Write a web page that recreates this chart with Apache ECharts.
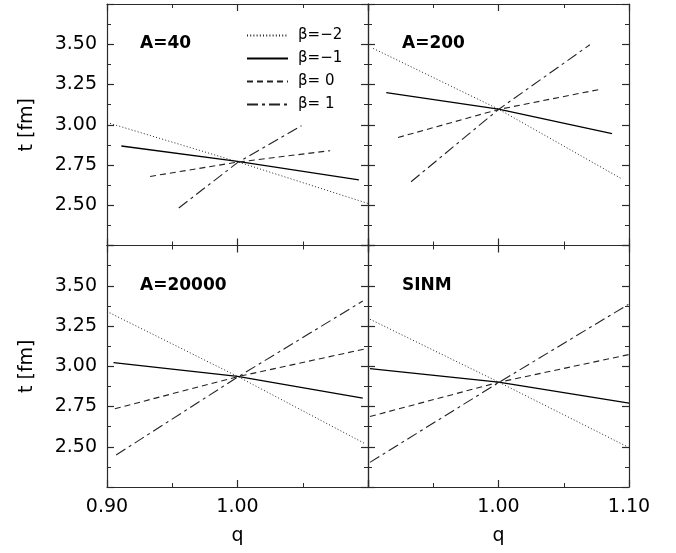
<!DOCTYPE html>
<html>
<head>
<meta charset="utf-8">
<script src="https://cdn.jsdelivr.net/npm/echarts@6/dist/echarts.min.js"></script>
<style>
  html, body { margin: 0; padding: 0; background: #fff; }
  #chart { width: 676px; height: 553px; }
</style>
</head>
<body>
<div id="chart"></div>
<script>
// Beta labels and panel captions
const BETA_NAMES = ['β=−2', 'β=−1', 'β= 0', 'β= 1'];
const PANEL_LABELS = ['A=40', 'A=200', 'A=20000', 'SINM'];

// Curves t(q) in fm, as [q, t] pairs
const A40_BM2 = [[0.900, 3.014], [1.000, 2.770], [1.100, 2.511]];
const A40_BM1 = [[0.911, 2.868], [1.000, 2.772], [1.093, 2.658]];
const A40_B0  = [[0.933, 2.679], [1.000, 2.768], [1.071, 2.839]];
const A40_B1  = [[0.955, 2.483], [1.000, 2.765], [1.049, 2.994]];

const A200_BM2 = [[0.904, 3.474], [1.000, 3.097], [1.094, 2.666]];
const A200_BM1 = [[0.914, 3.200], [1.000, 3.097], [1.087, 2.945]];
const A200_B0  = [[0.923, 2.921], [1.000, 3.095], [1.079, 3.222]];
const A200_B1  = [[0.933, 2.646], [1.000, 3.095], [1.070, 3.497]];

const A20000_BM2 = [[0.902, 3.332], [1.000, 2.937], [1.098, 2.518]];
const A20000_BM1 = [[0.905, 3.023], [1.000, 2.937], [1.096, 2.802]];
const A20000_B0  = [[0.906, 2.736], [1.000, 2.935], [1.099, 3.110]];
const A20000_B1  = [[0.907, 2.449], [1.000, 2.932], [1.096, 3.405]];

const SINM_BM2 = [[0.9015, 3.292], [1.000, 2.902], [1.0995, 2.497]];
const SINM_BM1 = [[0.9015, 2.985], [1.000, 2.902], [1.100, 2.771]];
const SINM_B0  = [[0.9015, 2.688], [1.000, 2.900], [1.100, 3.073]];
const SINM_B1  = [[0.9015, 2.403], [1.000, 2.898], [1.0995, 3.384]];

const PANEL_CURVES = [
  [A40_BM2, A40_BM1, A40_B0, A40_B1],
  [A200_BM2, A200_BM1, A200_B0, A200_B1],
  [A20000_BM2, A20000_BM1, A20000_B0, A20000_B1],
  [SINM_BM2, SINM_BM1, SINM_B0, SINM_B1]
];

// Axis ranges and tick steps
const Q_MIN = 0.90, Q_MAX = 1.10, Q_STEP = 0.10;
const T_MIN = 2.25, T_MAX = 3.75, T_STEP = 0.25;

const FONT = 'DejaVu Sans';
const INK = '#000';
const FRAME = '#2a2a2a';

const LINE_STYLES = [
  { type: [1, 2.2], width: 1, color: '#222' },
  { type: 'solid', width: 1.3, color: '#000' },
  { type: [6, 4], width: 1.1, color: '#222' },
  { type: [11, 4, 3, 4], width: 1.1, color: '#222' }
];

// 2 x 2 panel layout
const LEFT = 107, TOP = 4, PW = 261, PH = 241.5;
const grids = [
  { left: LEFT, top: TOP, width: PW, height: PH },
  { left: LEFT + PW, top: TOP, width: PW, height: PH },
  { left: LEFT, top: TOP + PH, width: PW, height: PH },
  { left: LEFT + PW, top: TOP + PH, width: PW, height: PH }
];

function near(a, b) { return Math.abs(a - b) < 1e-6; }

function axisCommon() {
  return {
    type: 'value',
    axisLine: { show: true, onZero: false, lineStyle: { color: FRAME, width: 1.2 } },
    axisTick: { show: true, inside: true, length: 7, lineStyle: { color: FRAME, width: 1.2 } },
    minorTick: { show: true, splitNumber: 2, length: 4, lineStyle: { color: FRAME, width: 1 } },
    splitLine: { show: false },
    minorSplitLine: { show: false }
  };
}

const xAxes = [], yAxes = [];
for (let p = 0; p < 4; p++) {
  const isLeft = p % 2 === 0;
  const isBottom = p >= 2;
  // bottom x axis (carries labels on the lower row)
  xAxes.push(Object.assign(axisCommon(), {
    gridIndex: p, position: 'bottom', min: Q_MIN, max: Q_MAX, interval: Q_STEP,
    name: isBottom ? 'q' : '', nameLocation: 'middle', nameGap: 40,
    nameTextStyle: { fontFamily: FONT, fontSize: 19, color: INK },
    axisLabel: {
      show: isBottom, margin: 11, fontFamily: FONT, fontSize: 19, color: INK,
      formatter: function (v) {
        if (isLeft && near(v, Q_MAX)) return '';
        if (!isLeft && near(v, Q_MIN)) return '';
        return v.toFixed(2);
      }
    }
  }));
  // top x axis: mirrored ticks only
  xAxes.push(Object.assign(axisCommon(), {
    gridIndex: p, position: 'top', min: Q_MIN, max: Q_MAX, interval: Q_STEP,
    axisLabel: { show: false }
  }));
  // left y axis
  yAxes.push(Object.assign(axisCommon(), {
    gridIndex: p, position: 'left', min: T_MIN, max: T_MAX, interval: T_STEP,
    name: isLeft ? 't [fm]' : '', nameLocation: 'middle', nameGap: 70, nameRotate: 90,
    nameTextStyle: { fontFamily: FONT, fontSize: 19, color: INK },
    axisLabel: {
      show: isLeft, margin: 10, fontFamily: FONT, fontSize: 19, color: INK,
      formatter: function (v) {
        if (near(v, T_MIN) || near(v, T_MAX)) return '';
        return v.toFixed(2);
      }
    }
  }));
  // right y axis: mirrored ticks only
  yAxes.push(Object.assign(axisCommon(), {
    gridIndex: p, position: 'right', min: T_MIN, max: T_MAX, interval: T_STEP,
    axisLabel: { show: false }
  }));
}

const series = [];
for (let p = 0; p < 4; p++) {
  for (let b = 0; b < 4; b++) {
    series.push({
      type: 'line',
      name: BETA_NAMES[b],
      xAxisIndex: 2 * p,
      yAxisIndex: 2 * p,
      data: PANEL_CURVES[p][b],
      symbol: 'none',
      silent: true,
      color: LINE_STYLES[b].color,
      lineStyle: LINE_STYLES[b]
    });
  }
}

// Panel captions
const labelPos = [[140, 35], [402, 35], [140, 277], [402, 277]];
const titles = PANEL_LABELS.map(function (t, i) {
  return {
    text: t, left: labelPos[i][0], top: labelPos[i][1], padding: 0,
    textStyle: { fontFamily: FONT, fontSize: 17, fontWeight: 'bold', color: '#000' }
  };
});

const chart = echarts.init(document.getElementById('chart'), null, { renderer: 'canvas' });
chart.setOption({
  animation: false,
  backgroundColor: '#fff',
  title: titles,
  legend: {
    orient: 'vertical', left: 246, top: 28, padding: 0,
    itemWidth: 41, itemHeight: 14, itemGap: 8,
    selectedMode: false,
    data: BETA_NAMES,
    itemStyle: { color: 'transparent', borderWidth: 0, opacity: 0 },
    textStyle: { fontFamily: FONT, fontSize: 15, color: INK, padding: [0, 0, 0, 5] }
  },
  grid: grids,
  xAxis: xAxes,
  yAxis: yAxes,
  series: series
});
</script>
</body>
</html>
